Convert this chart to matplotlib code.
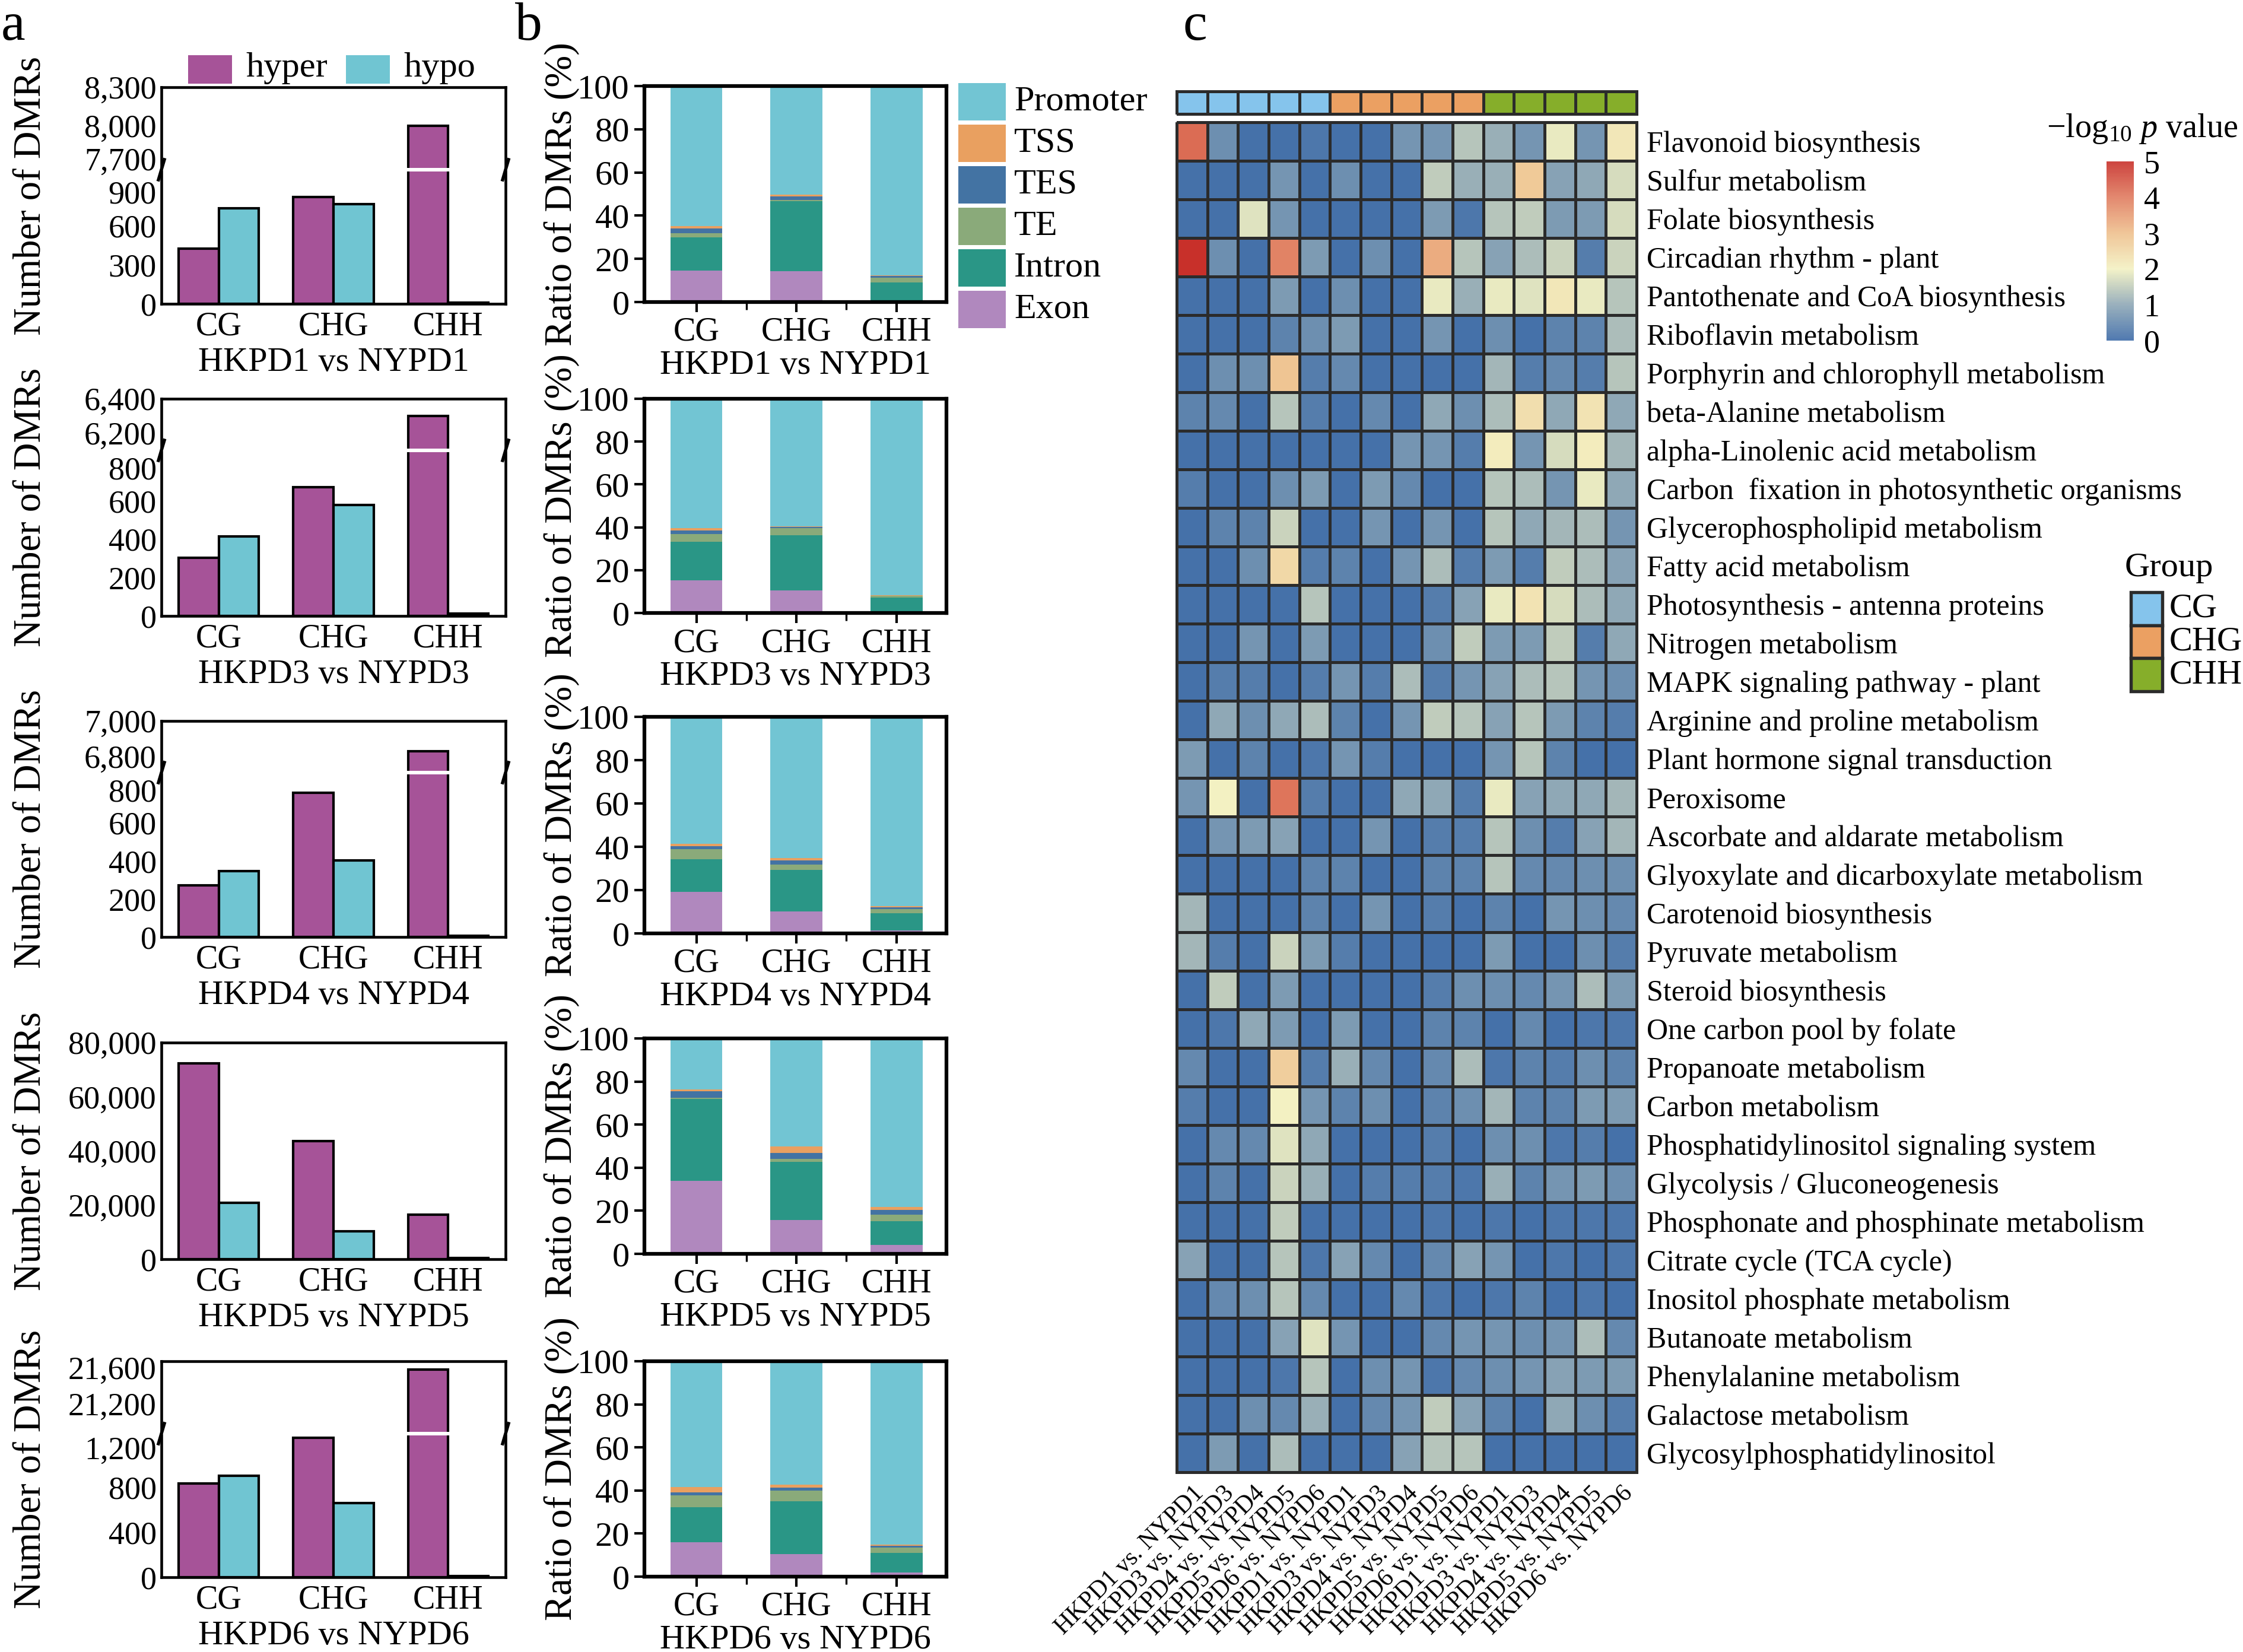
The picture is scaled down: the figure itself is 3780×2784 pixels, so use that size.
import numpy as np
import matplotlib
matplotlib.use('Agg')
import matplotlib.pyplot as plt
import matplotlib.transforms as mtrans
from matplotlib.colors import LinearSegmentedColormap, ListedColormap, Normalize
from matplotlib.patches import Rectangle
from matplotlib.lines import Line2D
from matplotlib.cm import ScalarMappable

plt.rcParams['font.family'] = ['Liberation Serif', 'DejaVu Serif']
plt.rcParams['mathtext.fontset'] = 'custom'
plt.rcParams['mathtext.rm'] = 'Liberation Serif'
plt.rcParams['mathtext.it'] = 'Liberation Serif:italic'

# ---------------- data ----------------
contexts = ['CG', 'CHG', 'CHH']
comparisons = ['HKPD1 vs NYPD1', 'HKPD3 vs NYPD3', 'HKPD4 vs NYPD4',
               'HKPD5 vs NYPD5', 'HKPD6 vs NYPD6']
hyper_counts = [[423, 820, 8000], [304, 672, 6313], [273, 757, 6852],
                [72300, 43540, 16460], [835, 1240, 21580]]
hypo_counts = [[732, 764, 8], [414, 579, 12], [345, 402, 5],
               [20770, 10300, 400], [900, 660, 8]]

# axis ranges for broken axes (lower top, upper range) and ticks
lower_top = [1015, 853, 855, None, 1260]
upper_rng = [(7672, 8300), (6147, 6400), (6754, 7000), None, (20980, 21660)]
lower_ticks = [[0, 300, 600, 900], [0, 200, 400, 600, 800], [0, 200, 400, 600, 800],
               [0, 20000, 40000, 60000, 80000], [0, 400, 800, 1200]]
upper_ticks = [[7700, 8000, 8300], [6200, 6400], [6800, 7000], None, [21200, 21600]]

regions = ['Promoter', 'TSS', 'TES', 'TE', 'Intron', 'Exon']
exon_pct = [[14.6, 14.2, 0.9], [15.1, 10.6, 0.2], [19.2, 10.2, 1.3], [34.0, 15.6, 4.1], [15.9, 10.5, 1.9]]
intron_pct = [[15.4, 32.5, 8.2], [18.2, 25.6, 6.9], [15.0, 19.2, 7.9], [38.0, 27.1, 11.0], [16.2, 24.6, 9.1]]
te_pct = [[2.0, 0.6, 2.1], [3.5, 3.5, 0.8], [4.8, 2.3, 1.9], [0.4, 1.3, 3.2], [5.6, 4.9, 2.4]]
tes_pct = [[2.2, 1.7, 0.9], [1.8, 0.5, 0.2], [1.3, 2.1, 1.0], [3.1, 2.9, 2.0], [1.3, 1.2, 0.9]]
tss_pct = [[0.9, 0.8, 0.3], [1.1, 0.3, 0.2], [1.0, 1.1, 0.4], [0.9, 2.9, 1.5], [2.5, 1.6, 0.7]]
promoter_pct = [[64.9, 50.2, 87.6], [60.3, 59.5, 91.7], [58.7, 65.1, 87.5], [23.6, 50.2, 78.2], [58.5, 57.2, 85.0]]

pathways = ['Flavonoid biosynthesis', 'Sulfur metabolism', 'Folate biosynthesis',
            'Circadian rhythm - plant', 'Pantothenate and CoA biosynthesis',
            'Riboflavin metabolism', 'Porphyrin and chlorophyll metabolism',
            'beta-Alanine metabolism', 'alpha-Linolenic acid metabolism',
            'Carbon  fixation in photosynthetic organisms', 'Glycerophospholipid metabolism',
            'Fatty acid metabolism', 'Photosynthesis - antenna proteins', 'Nitrogen metabolism',
            'MAPK signaling pathway - plant', 'Arginine and proline metabolism',
            'Plant hormone signal transduction', 'Peroxisome', 'Ascorbate and aldarate metabolism',
            'Glyoxylate and dicarboxylate metabolism', 'Carotenoid biosynthesis',
            'Pyruvate metabolism', 'Steroid biosynthesis', 'One carbon pool by folate',
            'Propanoate metabolism', 'Carbon metabolism', 'Phosphatidylinositol signaling system',
            'Glycolysis / Gluconeogenesis', 'Phosphonate and phosphinate metabolism',
            'Citrate cycle (TCA cycle)', 'Inositol phosphate metabolism', 'Butanoate metabolism',
            'Phenylalanine metabolism', 'Galactose metabolism', 'Glycosylphosphatidylinositol']
heat_cols = ['HKPD1 vs. NYPD1', 'HKPD3 vs. NYPD3', 'HKPD4 vs. NYPD4', 'HKPD5 vs. NYPD5',
             'HKPD6 vs. NYPD6'] * 3
heat_groups = ['CG'] * 5 + ['CHG'] * 5 + ['CHH'] * 5
neglog_p = [
    [4.2, 0.6, 0.1, 0.1, 0.2, 0.1, 0.1, 0.7, 0.7, 1.4, 1.1, 0.7, 1.9, 0.7, 2.2],
    [0.1, 0.1, 0.1, 0.7, 0.1, 0.6, 0.1, 0.1, 1.5, 1.1, 1.1, 2.8, 0.9, 1.0, 1.7],
    [0.1, 0.1, 1.8, 0.7, 0.1, 0.1, 0.1, 0.1, 0.8, 0.2, 1.4, 1.5, 0.8, 0.8, 1.7],
    [5.0, 0.6, 0.1, 3.9, 0.8, 0.1, 0.6, 0.1, 3.3, 1.4, 0.9, 1.3, 1.6, 0.3, 1.6],
    [0.1, 0.1, 0.1, 0.8, 0.1, 0.6, 0.1, 0.1, 1.9, 1.1, 1.9, 1.8, 2.2, 1.9, 1.4],
    [0.1, 0.1, 0.1, 0.4, 0.6, 0.8, 0.1, 0.1, 0.7, 0.1, 0.6, 0.1, 0.4, 0.4, 1.3],
    [0.1, 0.6, 0.6, 2.9, 0.3, 0.5, 0.1, 0.1, 0.1, 0.1, 1.2, 0.3, 0.5, 0.3, 1.4],
    [0.4, 0.5, 0.1, 1.4, 0.3, 0.1, 0.5, 0.1, 1.0, 0.6, 1.3, 2.4, 1.0, 2.3, 1.0],
    [0.1, 0.1, 0.1, 0.1, 0.1, 0.1, 0.1, 0.7, 0.7, 0.3, 2.1, 0.7, 1.7, 2.1, 1.2],
    [0.3, 0.1, 0.1, 0.6, 0.8, 0.1, 0.8, 0.5, 0.1, 0.1, 1.4, 1.3, 0.7, 1.9, 1.0],
    [0.1, 0.4, 0.4, 1.6, 0.1, 0.1, 0.7, 0.1, 0.7, 0.1, 1.4, 1.0, 1.2, 1.3, 0.7],
    [0.1, 0.1, 0.6, 2.5, 0.3, 0.4, 0.1, 0.7, 1.3, 0.3, 0.8, 0.3, 1.5, 1.3, 0.9],
    [0.1, 0.1, 0.1, 0.1, 1.4, 0.1, 0.1, 0.1, 0.3, 0.9, 1.9, 2.3, 1.7, 1.3, 1.0],
    [0.1, 0.1, 0.7, 0.1, 0.8, 0.1, 0.1, 0.1, 0.6, 1.5, 0.8, 0.8, 1.5, 0.3, 1.0],
    [0.1, 0.3, 0.3, 0.1, 0.3, 0.7, 0.3, 1.3, 0.3, 0.7, 0.9, 1.3, 1.4, 0.7, 0.6],
    [0.1, 1.0, 0.6, 1.0, 1.3, 0.4, 0.1, 0.7, 1.5, 1.4, 0.9, 1.4, 0.8, 0.4, 0.3],
    [0.8, 0.1, 0.4, 0.1, 0.2, 0.7, 0.3, 0.1, 0.1, 0.1, 0.7, 1.4, 0.4, 0.1, 0.1],
    [0.7, 2.0, 0.1, 4.1, 0.3, 0.1, 0.1, 1.0, 1.0, 0.3, 1.9, 0.9, 1.0, 1.0, 1.2],
    [0.1, 0.7, 0.8, 0.9, 0.1, 0.1, 0.7, 0.1, 0.3, 0.3, 1.4, 0.6, 0.3, 0.9, 1.2],
    [0.1, 0.1, 0.1, 0.1, 0.4, 0.4, 0.1, 0.1, 0.4, 0.4, 1.4, 0.5, 0.5, 0.6, 0.6],
    [1.2, 0.1, 0.1, 0.1, 0.4, 0.1, 0.7, 0.1, 0.3, 0.1, 0.4, 0.1, 0.7, 0.6, 0.5],
    [1.2, 0.3, 0.1, 1.6, 0.8, 0.3, 0.1, 0.1, 0.1, 0.1, 0.8, 0.1, 0.1, 0.6, 0.3],
    [0.1, 1.5, 0.1, 0.8, 0.1, 0.1, 0.1, 0.1, 0.3, 0.6, 0.6, 0.5, 0.7, 1.3, 0.8],
    [0.1, 0.2, 1.0, 0.8, 0.1, 0.8, 0.1, 0.1, 0.4, 0.4, 0.1, 0.5, 0.1, 0.2, 0.2],
    [0.5, 0.1, 0.1, 2.7, 0.3, 1.1, 0.5, 0.1, 0.5, 1.3, 0.2, 0.4, 0.3, 0.6, 0.4],
    [0.3, 0.1, 0.1, 2.0, 0.7, 0.4, 0.6, 0.1, 0.4, 0.6, 1.2, 0.4, 0.4, 0.8, 0.8],
    [0.1, 0.5, 0.5, 1.8, 1.0, 0.1, 0.1, 0.1, 0.3, 0.1, 0.6, 0.6, 0.2, 0.3, 0.1],
    [0.1, 0.4, 0.1, 1.6, 1.1, 0.1, 0.3, 0.3, 0.3, 0.2, 1.1, 0.4, 0.7, 0.8, 0.6],
    [0.1, 0.1, 0.1, 1.5, 0.1, 0.1, 0.1, 0.1, 0.2, 0.1, 0.2, 0.1, 0.2, 0.2, 0.2],
    [0.9, 0.1, 0.1, 1.4, 0.2, 0.9, 0.5, 0.1, 0.5, 0.9, 0.7, 0.1, 0.2, 0.1, 0.2],
    [0.1, 0.5, 0.6, 1.4, 0.5, 0.1, 0.1, 0.5, 0.2, 0.1, 0.2, 0.4, 0.1, 0.2, 0.1],
    [0.1, 0.1, 0.1, 0.9, 1.8, 0.7, 0.1, 0.1, 0.5, 0.7, 0.7, 0.6, 0.7, 1.3, 0.5],
    [0.1, 0.1, 0.1, 0.2, 1.4, 0.1, 0.6, 0.7, 0.2, 0.5, 0.6, 0.7, 0.9, 0.8, 0.8],
    [0.1, 0.1, 0.6, 0.5, 1.1, 0.1, 0.5, 0.7, 1.5, 0.9, 0.4, 0.1, 1.0, 0.6, 0.3],
    [0.1, 0.8, 0.1, 1.3, 0.1, 0.1, 0.1, 0.9, 1.4, 1.4, 0.1, 0.1, 0.1, 0.1, 0.1],
]

# ---------------- styles ----------------
hyper_color = '#A65398'
hypo_color = '#70C5D2'
region_colors = {'Promoter': '#72C5D3', 'TSS': '#E9A060', 'TES': '#4373A3',
                 'TE': '#8AAA7A', 'Intron': '#2A9686', 'Exon': '#B088BE'}
group_colors = {'CG': '#85C4EC', 'CHG': '#EBA062', 'CHH': '#86AE2A'}
cmap = LinearSegmentedColormap.from_list('pv', [
    (0.0, '#3d6ba8'), (0.2, '#8fa8b6'), (0.4, '#f3f1c2'),
    (0.6, '#efc08e'), (0.8, '#e07c60'), (1.0, '#c8302a')])

W, H = 3780, 2784
fig = plt.figure(figsize=(W / 300, H / 300), dpi=300)


def box(x0, y0, x1, y1):
    return [x0 / W, 1 - y1 / H, (x1 - x0) / W, (y1 - y0) / H]


def fx(px):
    return px / W


def fy(py):
    return 1 - py / H


def shift_label(tick, dy_px):
    off = mtrans.ScaledTranslation(0, dy_px / 300, fig.dpi_scale_trans)
    tick.label1.set_transform(tick.label1.get_transform() + off)


a_tops = [147, 672, 1215, 1757, 2294]
a_bots = [512, 1038, 1579, 2122, 2658]
a_breaks = [286, 759, 1302, None, 2416]
AX0, AX1 = 272, 852
b_tops = [145, 672, 1208, 1750, 2294]
b_bots = [509, 1033, 1573, 2113, 2657]
BX0, BX1 = 1086, 1595

x = np.arange(len(contexts))
bw = 0.35
fmt = matplotlib.ticker.FuncFormatter(lambda v, p: '{:,.0f}'.format(v))

# ---------------- panel a ----------------
for i in range(5):
    top, bot, brk = a_tops[i], a_bots[i], a_breaks[i]
    if brk is None:
        axl = fig.add_axes(box(AX0, top, AX1, bot))
        axs = [axl]
        axl.set_ylim(0, lower_ticks[i][-1])
        axu = None
    else:
        axu = fig.add_axes(box(AX0, top, AX1, brk - 3))
        axl = fig.add_axes(box(AX0, brk + 3, AX1, bot))
        axs = [axu, axl]
        axu.set_ylim(*upper_rng[i])
        axl.set_ylim(0, lower_top[i])
        axu.set_yticks(upper_ticks[i])
        axu.spines['bottom'].set_visible(False)
        axl.spines['top'].set_visible(False)
        axu.tick_params(axis='x', bottom=False, labelbottom=False)
        for xx in (AX0, AX1):
            fig.add_artist(Line2D([fx(xx - 5), fx(xx + 5)], [fy(brk + 17), fy(brk - 17)],
                                  color='black', lw=1.3, transform=fig.transFigure))
    axl.set_yticks(lower_ticks[i])
    for ax in axs:
        ax.bar(x - bw / 2, hyper_counts[i], bw, color=hyper_color, edgecolor='black', lw=1.0)
        ax.bar(x + bw / 2, hypo_counts[i], bw, color=hypo_color, edgecolor='black', lw=1.0)
        ax.set_xlim(-0.5, 2.5)
        ax.yaxis.set_major_formatter(fmt)
        ax.tick_params(axis='y', length=0, pad=2, labelsize=13)
        for s in ax.spines.values():
            s.set_linewidth(1.1)
    if axu is not None:
        shift_label(axu.yaxis.get_major_ticks()[0], 9)
        shift_label(axl.yaxis.get_major_ticks()[-1], -9)
    axl.set_xticks(x)
    axl.set_xticklabels(contexts)
    axl.tick_params(axis='x', length=0, pad=3, labelsize=13.5)
    axl.set_xlabel(comparisons[i], fontsize=14, labelpad=2)
    fig.text(fx(53), fy((top + bot) / 2), 'Number of DMRs', rotation=90,
             ha='center', va='center', fontsize=15.5)

# legend for panel a
fig.add_artist(Rectangle((fx(317), fy(141)), (391 - 317) / W, (141 - 93) / H,
                         transform=fig.transFigure, facecolor=hyper_color, edgecolor='none'))
fig.text(fx(414), fy(115), 'hyper', va='center', ha='left', fontsize=14.5)
fig.add_artist(Rectangle((fx(583), fy(141)), (657 - 583) / W, (141 - 93) / H,
                         transform=fig.transFigure, facecolor=hypo_color, edgecolor='none'))
fig.text(fx(680), fy(115), 'hypo', va='center', ha='left', fontsize=14.5)

# ---------------- panel b ----------------
stack_order = ['Exon', 'Intron', 'TE', 'TES', 'TSS', 'Promoter']
stack_data = {'Exon': exon_pct, 'Intron': intron_pct, 'TE': te_pct,
              'TES': tes_pct, 'TSS': tss_pct, 'Promoter': promoter_pct}
for i in range(5):
    ax = fig.add_axes(box(BX0, b_tops[i], BX1, b_bots[i]))
    bottom = np.zeros(3)
    for reg in stack_order:
        vals = np.array(stack_data[reg][i])
        ax.bar(x, vals, 0.52, bottom=bottom, color=region_colors[reg], edgecolor='none')
        bottom += vals
    ax.set_xlim(-0.52, 2.5)
    ax.set_ylim(0, 100)
    ax.set_yticks([0, 20, 40, 60, 80, 100])
    ax.set_xticks(x)
    ax.set_xticklabels(contexts)
    ax.set_xticks([0.5, 1.5], minor=True)
    ax.tick_params(axis='both', which='major', direction='out', length=4, width=1,
                   labelsize=14, pad=2)
    ax.tick_params(axis='x', which='minor', length=3, width=0.8)
    ax.tick_params(axis='x', which='major', labelsize=13.5)
    for s in ax.spines.values():
        s.set_linewidth(1.5)
    ax.set_xlabel(comparisons[i], fontsize=14, labelpad=1)
    fig.text(fx(947), fy((b_tops[i] + b_bots[i]) / 2), 'Ratio of DMRs (%)', rotation=90,
             ha='center', va='center', fontsize=15.5)

for j, reg in enumerate(regions):
    y0 = 140 + 70 * j
    fig.add_artist(Rectangle((fx(1615), fy(y0 + 63)), 80 / W, 63 / H,
                             transform=fig.transFigure, facecolor=region_colors[reg],
                             edgecolor='none'))
    fig.text(fx(1709), fy(y0 + 32), reg, va='center', ha='left', fontsize=14.5)

# ---------------- panel c ----------------
data = np.array(neglog_p)
nrow, ncol = data.shape
axh = fig.add_axes(box(1983, 206, 2758, 2481))
mesh = axh.pcolormesh(data, cmap=cmap, vmin=0, vmax=5, edgecolors='#2b2b2b', linewidth=1.1)
mesh.set_clip_on(False)
axh.set_xlim(0, ncol)
axh.set_ylim(nrow, 0)
axh.set_yticks(np.arange(nrow) + 0.5)
axh.set_yticklabels(pathways)
axh.yaxis.tick_right()
axh.set_xticks(np.arange(ncol) + 0.5)
axh.set_xticklabels(heat_cols, rotation=45, ha='right', rotation_mode='anchor')
axh.tick_params(axis='y', length=0, pad=4, labelsize=12)
axh.tick_params(axis='x', length=0, pad=4, labelsize=10)
for s in axh.spines.values():
    s.set_visible(False)

# group annotation bar
grp_names = list(group_colors.keys())
grp_idx = np.array([[grp_names.index(g) for g in heat_groups]])
axg = fig.add_axes(box(1983, 154, 2758, 192))
gm = axg.pcolormesh(grp_idx, cmap=ListedColormap([group_colors[g] for g in grp_names]),
                    vmin=-0.5, vmax=2.5, edgecolors='#2b2b2b', linewidth=1.1)
gm.set_clip_on(False)
axg.set_xlim(0, ncol)
axg.set_ylim(0, 1)
axg.set_xticks([])
axg.set_yticks([])
for s in axg.spines.values():
    s.set_visible(False)

# colorbar
cax = fig.add_axes(box(3550, 272, 3596, 574))
cb = fig.colorbar(ScalarMappable(norm=Normalize(0, 5), cmap=cmap), cax=cax, alpha=0.9)
cb.outline.set_visible(False)
cb.set_ticks([0, 1, 2, 3, 4, 5])
cax.tick_params(length=0, labelsize=13, pad=4)
fig.text(fx(3610), fy(217), r'$-\mathrm{log}_{10}\ \mathit{p}$ value', ha='center',
         va='center', fontsize=13.5)

# group legend
fig.text(fx(3655), fy(957), 'Group', ha='center', va='center', fontsize=14)
for k, g in enumerate(grp_names):
    y0 = 998 + 55.5 * k
    fig.add_artist(Rectangle((fx(3591), fy(y0 + 55.5)), 53 / W, 55.5 / H,
                             transform=fig.transFigure, facecolor=group_colors[g],
                             edgecolor='#2b2b2b', lw=1.3))
    fig.text(fx(3656), fy(y0 + 28), g, va='center', ha='left', fontsize=14)

# panel letters
fig.text(fx(2), fy(45), 'a', fontsize=22, va='center', ha='left')
fig.text(fx(868), fy(45), 'b', fontsize=22, va='center', ha='left')
fig.text(fx(1993), fy(45), 'c', fontsize=22, va='center', ha='left')

fig.savefig('out.png', dpi=300)
